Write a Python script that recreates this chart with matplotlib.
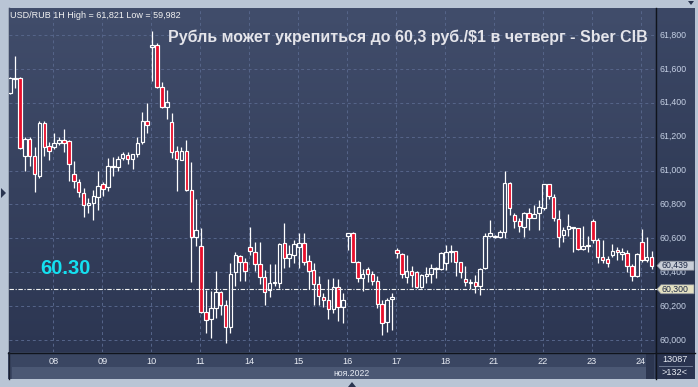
import numpy as np
import matplotlib
matplotlib.use('Agg')
import matplotlib.pyplot as plt
from matplotlib.colors import LinearSegmentedColormap
from matplotlib.patches import Rectangle, Polygon

plt.rcParams['font.family'] = ['Liberation Sans', 'DejaVu Sans']

# ---------------- data (hourly USD/RUB candles) ----------------
opens = [61.46, 61.54, 61.545, 61.088, 61.186, 61.088, 60.970, 61.279, 61.145, 61.141,
         61.164, 61.178, 61.173, 60.978, 60.935, 60.870, 60.797, 60.807, 60.846, 60.919,
         60.901, 61.020, 61.019, 61.073, 61.092, 61.067, 61.096, 61.167, 61.293, 61.730,
         61.741, 61.495, 61.373, 61.286, 61.117, 61.063, 61.117, 60.886, 60.606, 60.555,
         60.164, 60.122, 60.187, 60.282, 60.207, 60.079, 60.400, 60.496, 60.462, 60.547,
         60.518, 60.447, 60.374, 60.295, 60.335, 60.339, 60.571, 60.482, 60.504, 60.551,
         60.571, 60.468, 60.413, 60.329, 60.256, 60.237, 60.182, 60.315, 60.194, 60.614,
         60.630, 60.462, 60.364, 60.418, 60.388, 60.350, 60.211, 60.108, 60.242, 60.532,
         60.506, 60.374, 60.408, 60.400, 60.311, 60.380, 60.390, 60.418, 60.418, 60.453,
         60.520, 60.526, 60.459, 60.360, 60.339, 60.341, 60.321, 60.424, 60.616, 60.610,
         60.610, 60.636, 60.925, 60.736, 60.703, 60.665, 60.748, 60.722, 60.748, 60.778,
         60.919, 60.846, 60.716, 60.620, 60.655, 60.660, 60.659, 60.537, 60.553, 60.703,
         60.590, 60.492, 60.477, 60.502, 60.532, 60.510, 60.512, 60.439, 60.380, 60.577,
         60.472, 60.488]
highs = [61.55, 61.676, 61.55, 61.196, 61.200, 61.137, 61.294, 61.290, 61.170, 61.224,
         61.196, 61.247, 61.180, 61.057, 60.950, 60.895, 60.836, 60.886, 61.000, 60.935,
         61.076, 61.082, 61.086, 61.110, 61.110, 61.100, 61.200, 61.347, 61.400, 61.821,
         61.750, 61.524, 61.476, 61.342, 61.147, 61.141, 61.180, 61.053, 60.832, 60.660,
         60.296, 60.290, 60.408, 60.291, 60.237, 60.453, 60.520, 60.502, 60.482, 60.665,
         60.580, 60.580, 60.413, 60.447, 60.447, 60.570, 60.689, 60.561, 60.590, 60.630,
         60.630, 60.502, 60.453, 60.378, 60.280, 60.359, 60.364, 60.359, 60.280, 60.634,
         60.635, 60.465, 60.418, 60.433, 60.408, 60.378, 60.237, 60.250, 60.276, 60.541,
         60.516, 60.502, 60.437, 60.410, 60.390, 60.433, 60.449, 60.433, 60.520, 60.561,
         60.561, 60.526, 60.460, 60.437, 60.360, 60.384, 60.423, 60.630, 60.708, 60.620,
         60.650, 61.000, 60.930, 60.748, 60.718, 60.758, 60.778, 60.797, 60.826, 60.920,
         60.920, 60.860, 60.767, 60.669, 60.744, 60.665, 60.660, 60.673, 60.614, 60.713,
         60.600, 60.590, 60.496, 60.568, 60.551, 60.546, 60.532, 60.450, 60.515, 60.653,
         60.610, 60.527]
lows = [61.45, 61.487, 61.127, 60.999, 61.029, 60.875, 60.958, 61.087, 61.060, 61.130,
        61.150, 61.111, 60.940, 60.899, 60.846, 60.728, 60.752, 60.710, 60.768, 60.852,
        60.880, 60.968, 60.999, 61.060, 61.040, 61.010, 61.080, 61.157, 61.224, 61.529,
        61.485, 61.367, 61.303, 61.073, 60.881, 61.060, 60.880, 60.344, 60.557, 60.160,
        60.040, 60.014, 60.132, 60.148, 59.982, 60.040, 60.320, 60.348, 60.348, 60.502,
        60.410, 60.330, 60.210, 60.253, 60.319, 60.310, 60.424, 60.433, 60.457, 60.424,
        60.443, 60.300, 60.207, 60.207, 60.193, 60.124, 60.160, 60.114, 60.100, 60.530,
        60.460, 60.340, 60.291, 60.344, 60.325, 60.190, 60.030, 60.050, 60.060, 60.483,
        60.364, 60.339, 60.315, 60.310, 60.310, 60.339, 60.339, 60.364, 60.413, 60.413,
        60.463, 60.378, 60.364, 60.319, 60.300, 60.280, 60.266, 60.420, 60.610, 60.600,
        60.605, 60.600, 60.738, 60.663, 60.639, 60.610, 60.650, 60.718, 60.650, 60.770,
        60.830, 60.700, 60.551, 60.580, 60.614, 60.520, 60.530, 60.530, 60.520, 60.571,
        60.453, 60.453, 60.430, 60.492, 60.472, 60.472, 60.400, 60.350, 60.370, 60.462,
        60.462, 60.420]
closes = [61.545, 61.545, 61.135, 61.186, 61.088, 60.978, 61.279, 61.141, 61.114, 61.161,
          61.178, 61.164, 61.037, 60.939, 60.872, 60.797, 60.810, 60.850, 60.909, 60.890,
          61.027, 61.025, 61.067, 61.096, 61.067, 61.098, 61.161, 61.293, 61.269, 61.740,
          61.495, 61.373, 61.403, 61.108, 61.068, 61.117, 60.886, 60.606, 60.650, 60.164,
          60.118, 60.187, 60.285, 60.207, 60.079, 60.388, 60.500, 60.459, 60.409, 60.527,
          60.447, 60.374, 60.286, 60.335, 60.340, 60.567, 60.482, 60.508, 60.567, 60.571,
          60.462, 60.409, 60.331, 60.260, 60.237, 60.182, 60.315, 60.194, 60.237, 60.634,
          60.462, 60.364, 60.388, 60.390, 60.349, 60.213, 60.103, 60.237, 60.256, 60.514,
          60.388, 60.408, 60.382, 60.311, 60.384, 60.390, 60.424, 60.428, 60.512, 60.522,
          60.526, 60.459, 60.400, 60.341, 60.341, 60.321, 60.419, 60.614, 60.630, 60.616,
          60.636, 60.925, 60.780, 60.703, 60.673, 60.748, 60.722, 60.742, 60.783, 60.919,
          60.850, 60.718, 60.606, 60.649, 60.675, 60.665, 60.537, 60.555, 60.559, 60.590,
          60.492, 60.472, 60.453, 60.527, 60.522, 60.520, 60.439, 60.380, 60.508, 60.472,
          60.488, 60.439]

day_labels = ['08', '09', '10', '11', '14', '15', '16', '17', '18', '21', '22', '23', '24']
first_day_bar = 9          # index of first candle of day '08'
bars_per_day = 10
price_ticks = [61.8, 61.6, 61.4, 61.2, 61.0, 60.8, 60.6, 60.4, 60.2, 60.0]
header = 'USD/RUB 1H High = 61,821 Low = 59,982'
title = 'Рубль может укрепиться до 60,3 руб./$1 в четверг - Sber CIB'
target_price = 60.30
target_text = '60.30'
last_price = 60.439
month_label = 'ноя.2022'
volume_label = '13087'
bars_label = '>132<'

# ---------------- figure ----------------
W, H = 698, 387
fig = plt.figure(figsize=(W / 100, H / 100), dpi=100, facecolor='#b9c5d5')

bg = fig.add_axes([0, 0, 1, 1])
bg.set_xlim(0, W); bg.set_ylim(H, 0); bg.axis('off')

def vgrad(top, bottom):
    return LinearSegmentedColormap.from_list('g', [top, bottom])

grad = np.linspace(0, 1, 256).reshape(-1, 1)
# right price panel
bg.imshow(grad, extent=(655, 695, 352, 8), aspect='auto', cmap=vgrad('#3c4866', '#27314b'), zorder=0)
# bottom time panel
bg.add_patch(Rectangle((8, 352), 647, 27, facecolor='#3a4662', edgecolor='none', zorder=1))
bg.add_patch(Rectangle((12, 367), 636, 12, facecolor='#4b5874', edgecolor='none', zorder=1))
bg.add_patch(Rectangle((646, 353), 8, 26, facecolor='#2c3650', edgecolor='none', zorder=1))
bg.add_patch(Rectangle((655, 352), 40, 27, facecolor='#2a3450', edgecolor='none', zorder=1))
bg.plot([8, 695], [352.5, 352.5], color='#10141c', lw=1.0, zorder=2)
bg.plot([655.5, 655.5], [8, 379], color='#10141c', lw=1.0, zorder=2)
bg.plot([8.5, 8.5], [8, 379], color='#1a2030', lw=1.0, zorder=2)
bg.plot([659, 692], [366, 366], color='#7a869e', lw=0.6, zorder=2)
bg.set_xlim(0, W); bg.set_ylim(H, 0)

# ---------------- main candle axes ----------------
ax = fig.add_axes([9 / W, 1 - 352 / H, 646 / W, 344 / H])
ax.imshow(grad, extent=(0, 1, 0, 1), transform=ax.transAxes, aspect='auto',
          cmap=vgrad('#414d6b', '#2c3652'), zorder=0)
ax.set_xlim(-0.22, 131.7)
ax.set_ylim(59.930, 61.959)
ax.axis('off')

o = np.array(opens); c = np.array(closes); hi = np.array(highs); lo = np.array(lows)
x = np.arange(len(o))
top = np.maximum(o, c); bot = np.minimum(o, c)

day_x = [first_day_bar - 0.18 + bars_per_day * k for k in range(len(day_labels))]
grid_kw = dict(color='#56658a', lw=0.7, ls=(0, (3, 3)), zorder=1)
for p in price_ticks:
    ax.axhline(p, **grid_kw)
for dx in day_x:
    ax.axvline(dx, **grid_kw)

ax.vlines(x, top, hi, color='white', lw=0.9, zorder=3)
ax.vlines(x, lo, bot, color='white', lw=0.9, zorder=3)
face = [('#e8102c' if cc < oo else (0, 0, 0, 0)) for oo, cc in zip(o, c)]
ax.bar(x, np.maximum(top - bot, 0.004), bottom=bot, width=0.72, color=face,
       edgecolor='white', linewidth=0.85, zorder=4)

ax.axhline(target_price, color='#f2f2f2', lw=0.8, ls=(0, (4, 1.5, 1, 1.5)), zorder=5)
ax.text(0.048, 60.425, target_text, transform=ax.get_yaxis_transform(),
        fontsize=14.5, fontweight='bold', color='#14e0f0', va='center', ha='left', zorder=6)

fig.canvas.draw()

def ypix(p):
    return H - ax.transData.transform((0, p))[1]

def xpix(v):
    return ax.transData.transform((v, 0))[0]

# ---------------- overlay texts ----------------
ov = fig.add_axes([0, 0, 1, 1])
ov.set_xlim(0, W); ov.set_ylim(H, 0); ov.axis('off')
ov.patch.set_alpha(0)

ov.text(10, 15, header, fontsize=6.5, color='#f2f2f2', va='center', ha='left')
ov.text(168, 37, title, fontsize=11.5, fontweight='bold', color='#e4e4ea', va='center', ha='left')

for p in price_ticks:
    ov.text(659, ypix(p), f'{p:.3f}'.replace('.', ','), fontsize=6.3,
            color='#c5d0e4', va='center', ha='left', zorder=3)

ty = ypix(target_price)
ov.plot([655, 658], [ty, ty], color='#f2f2f2', lw=0.8)

def tag(p, fc, txt):
    y = ypix(p)
    ov.add_patch(Polygon([(657, y), (661, y - 4.5), (694, y - 4.5), (694, y + 4.5), (661, y + 4.5)],
                         closed=True, facecolor=fc, edgecolor='#8a8f9a', lw=0.5, zorder=5))
    ov.text(661.5, y, txt, fontsize=6.3, color='#1c2744', va='center', ha='left', zorder=6)

tag(last_price, '#c9ced8', f'{last_price:.3f}'.replace('.', ','))
tag(target_price, '#e4e1c2', f'{target_price:.3f}'.replace('.', ','))

for lab, dx in zip(day_labels, day_x):
    ov.text(xpix(dx), 361, lab, fontsize=6.6, color='#e8ecf4', va='center', ha='center')
ov.text(352, 373, month_label, fontsize=6.2, color='#e8ecf4', va='center', ha='center')
ov.text(675, 360, volume_label, fontsize=6.6, color='#e8ecf4', va='center', ha='center')
ov.text(675, 372.5, bars_label, fontsize=6.6, color='#e8ecf4', va='center', ha='center')

# small navigation triangles
ov.add_patch(Polygon([(1, 188), (6, 193), (1, 198)], closed=True, facecolor='#2a3550', edgecolor='none'))
ov.add_patch(Polygon([(348, 387), (352, 382), (356, 387)], closed=True, facecolor='#2a3550', edgecolor='none'))
ov.add_patch(Polygon([(688, 1), (694, 1), (691, 5)], closed=True, facecolor='#2a3550', edgecolor='none'))

fig.savefig('out.png', dpi=100, facecolor=fig.get_facecolor())
